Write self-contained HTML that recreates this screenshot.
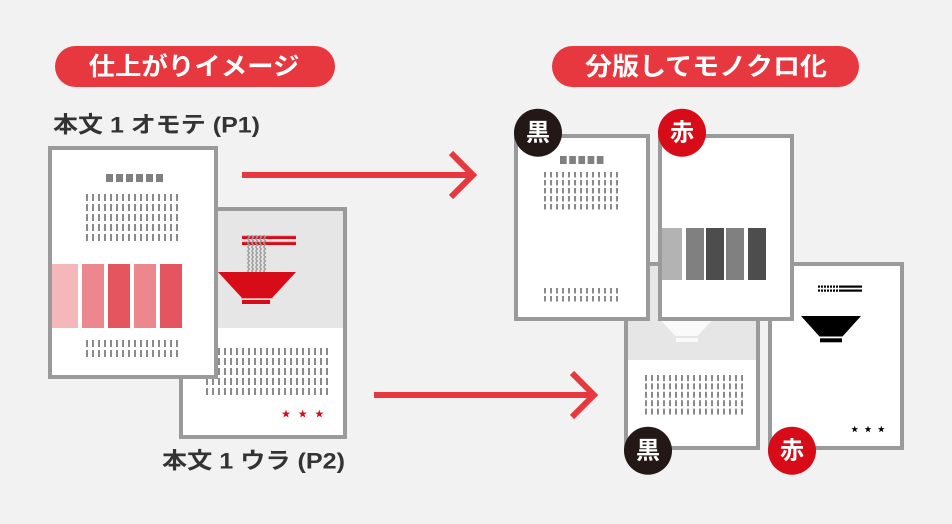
<!DOCTYPE html>
<html>
<head>
<meta charset="utf-8">
<style>
html,body{margin:0;padding:0;background:#f2f2f2;}
svg{display:block;}
text{font-family:"Liberation Sans","Noto Sans CJK JP",sans-serif;font-weight:bold;}
</style>
</head>
<body>
<svg width="952" height="524" viewBox="0 0 952 524" xmlns="http://www.w3.org/2000/svg">
<defs>
  <pattern id="g1" patternUnits="userSpaceOnUse" x="86" y="194" width="6" height="10"><rect x="0" y="0" width="2" height="7" fill="#8a8a8a"/></pattern>
  <pattern id="g2" patternUnits="userSpaceOnUse" x="86" y="340" width="6" height="10"><rect x="0" y="0" width="2" height="7" fill="#8a8a8a"/></pattern>
  <pattern id="g3" patternUnits="userSpaceOnUse" x="206" y="348" width="6" height="10"><rect x="0" y="0" width="2" height="7" fill="#8a8a8a"/></pattern>
  <pattern id="g4" patternUnits="userSpaceOnUse" x="544" y="172" width="6" height="8"><rect x="0" y="0" width="2" height="5.5" fill="#8a8a8a"/></pattern>
  <pattern id="g5" patternUnits="userSpaceOnUse" x="544" y="288" width="6" height="8"><rect x="0" y="0" width="2" height="5.5" fill="#8a8a8a"/></pattern>
  <pattern id="g6" patternUnits="userSpaceOnUse" x="645" y="375" width="6" height="8.4"><rect x="0" y="0" width="2" height="6" fill="#8a8a8a"/></pattern>
  <pattern id="nd" patternUnits="userSpaceOnUse" x="246.5" y="235" width="4" height="4"><path d="M1,0 L3,2 L1,4" fill="none" stroke="#9a9a9a" stroke-width="1.3"/></pattern>
  <pattern id="nd2" patternUnits="userSpaceOnUse" x="818" y="285" width="3" height="7"><rect x="2" y="0" width="1" height="7" fill="#fff"/></pattern>
  <path id="star" d="M0,-1 L0.235,-0.324 L0.951,-0.309 L0.380,0.124 L0.588,0.809 L0,0.4 L-0.588,0.809 L-0.380,0.124 L-0.951,-0.309 L-0.235,-0.324 Z"/>
</defs>

<!-- background -->
<rect x="0" y="0" width="952" height="524" fill="#f2f2f2"/>

<!-- pills -->
<rect x="55" y="46" width="280" height="41" rx="20.5" fill="#e8383f"/>
<text x="88.5" y="67" font-size="25" fill="#fff" dominant-baseline="central" textLength="211" lengthAdjust="spacingAndGlyphs">仕上がりイメージ</text>
<rect x="552" y="46" width="307" height="41" rx="20.5" fill="#e8383f"/>
<text x="585" y="67" font-size="25" fill="#fff" dominant-baseline="central" textLength="242" lengthAdjust="spacingAndGlyphs">分版してモノクロ化</text>

<!-- subtitles -->
<text x="53" y="125" font-size="22.5" fill="#333" dominant-baseline="central" textLength="207" lengthAdjust="spacingAndGlyphs">本文 1 オモテ (P1)</text>
<text x="162" y="461" font-size="22.5" fill="#333" dominant-baseline="central" textLength="183" lengthAdjust="spacingAndGlyphs">本文 1 ウラ (P2)</text>

<!-- arrows -->
<g stroke="#e8383f" stroke-width="6" fill="none" stroke-linejoin="miter">
  <line x1="242" y1="175" x2="472" y2="175"/>
  <polyline points="451,153 473,175 451,197"/>
  <line x1="374" y1="395" x2="592" y2="395"/>
  <polyline points="572,373 594,395 572,417"/>
</g>

<!-- P2 page (color) -->
<rect x="181" y="209" width="164" height="228" fill="#fff" stroke="#9a9a9a" stroke-width="4"/>
<rect x="183" y="211" width="160" height="117" fill="#e6e6e6"/>
<rect x="242" y="236" width="54" height="3" fill="#d70c18"/>
<rect x="242" y="235.5" width="54" height="0.7" fill="#ee8a90"/>
<rect x="242" y="242" width="54" height="3" fill="#d70c18"/>
<rect x="242" y="241.5" width="54" height="0.7" fill="#ee8a90"/>
<rect x="246.5" y="235" width="20.5" height="37" fill="url(#nd)"/>
<polygon points="218,272 296,272 272,298 242,298" fill="#d70c18"/>
<rect x="241" y="298" width="32" height="1" fill="#f0a0a5"/>
<rect x="242" y="300" width="28" height="4" fill="#d70c18"/>
<rect x="206" y="348" width="122" height="47" fill="url(#g3)"/>
<g fill="#d70c18">
  <use href="#star" transform="translate(286,414) scale(4.4)"/>
  <use href="#star" transform="translate(302.7,414) scale(4.4)"/>
  <use href="#star" transform="translate(319.3,414) scale(4.4)"/>
</g>

<!-- P1 page -->
<rect x="50" y="148" width="166" height="229" fill="#fff" stroke="#9a9a9a" stroke-width="4"/>
<g fill="#808080">
  <rect x="106" y="174" width="7" height="8"/>
  <rect x="116" y="174" width="7" height="8"/>
  <rect x="126" y="174" width="7" height="8"/>
  <rect x="136" y="174" width="7" height="8"/>
  <rect x="146" y="174" width="7" height="8"/>
  <rect x="156" y="174" width="7" height="8"/>
</g>
<rect x="86" y="194" width="92" height="47" fill="url(#g1)"/>
<rect x="52" y="264" width="26" height="64" fill="#f4b8bb"/>
<rect x="82" y="264" width="22" height="64" fill="#ec878e"/>
<rect x="108" y="264" width="22" height="64" fill="#e45560"/>
<rect x="134" y="264" width="22" height="64" fill="#ec878e"/>
<rect x="160" y="264" width="22" height="64" fill="#e45560"/>
<rect x="86" y="340" width="92" height="17" fill="url(#g2)"/>

<!-- left-back mono page (black plate of P2) -->
<rect x="626" y="264" width="132" height="184" fill="#fff" stroke="#9a9a9a" stroke-width="4"/>
<rect x="628" y="266" width="128" height="94" fill="#e6e6e6"/>
<polygon points="656.5,316 716.5,316 697.5,336 675.5,336" fill="#fafafa"/>
<rect x="676" y="338" width="22" height="4" fill="#fafafa"/>
<rect x="645" y="375" width="98" height="40" fill="url(#g6)"/>

<!-- right-back mono page (red plate of P2) -->
<rect x="770" y="264" width="132" height="184" fill="#fff" stroke="#9a9a9a" stroke-width="4"/>
<rect x="818" y="285.5" width="44" height="2.2" fill="#000"/>
<rect x="818" y="289.5" width="44" height="2.2" fill="#000"/>
<rect x="818" y="285" width="22" height="7" fill="url(#nd2)"/>
<polygon points="801,316 861,316 842.5,336.5 819.5,336.5" fill="#000"/>
<rect x="820" y="338.3" width="22" height="4" fill="#000"/>
<g fill="#000">
  <use href="#star" transform="translate(854.7,429.3) scale(3.6)"/>
  <use href="#star" transform="translate(868,429.3) scale(3.6)"/>
  <use href="#star" transform="translate(881.3,429.3) scale(3.6)"/>
</g>

<!-- black plate P1 -->
<rect x="516" y="136" width="132" height="183" fill="#fff" stroke="#9a9a9a" stroke-width="4"/>
<g fill="#808080">
  <rect x="560" y="156" width="6.7" height="8"/>
  <rect x="569.2" y="156" width="6.7" height="8"/>
  <rect x="578.4" y="156" width="6.7" height="8"/>
  <rect x="587.6" y="156" width="6.7" height="8"/>
  <rect x="596.8" y="156" width="6.7" height="8"/>
</g>
<rect x="544" y="172" width="74" height="38" fill="url(#g4)"/>
<rect x="544" y="288" width="74" height="14" fill="url(#g5)"/>

<!-- red plate P1 -->
<rect x="660" y="136" width="132" height="183" fill="#fff" stroke="#9a9a9a" stroke-width="4"/>
<rect x="662" y="228" width="20" height="52" fill="#b3b3b3"/>
<rect x="686" y="228" width="18" height="52" fill="#808080"/>
<rect x="706" y="228" width="18" height="52" fill="#4d4d4d"/>
<rect x="726" y="228" width="18" height="52" fill="#808080"/>
<rect x="748" y="228" width="18" height="52" fill="#4d4d4d"/>

<!-- badges -->
<circle cx="538" cy="132.7" r="24" fill="#231815"/>
<text x="538" y="133" font-size="24" fill="#fff" text-anchor="middle" dominant-baseline="central">黒</text>
<circle cx="682" cy="132.7" r="24" fill="#d70c18"/>
<text x="682" y="133" font-size="24" fill="#fff" text-anchor="middle" dominant-baseline="central">赤</text>
<circle cx="648" cy="450.7" r="24" fill="#231815"/>
<text x="648" y="451" font-size="24" fill="#fff" text-anchor="middle" dominant-baseline="central">黒</text>
<circle cx="792" cy="450.7" r="24" fill="#d70c18"/>
<text x="792" y="451" font-size="24" fill="#fff" text-anchor="middle" dominant-baseline="central">赤</text>
</svg>
</body>
</html>
